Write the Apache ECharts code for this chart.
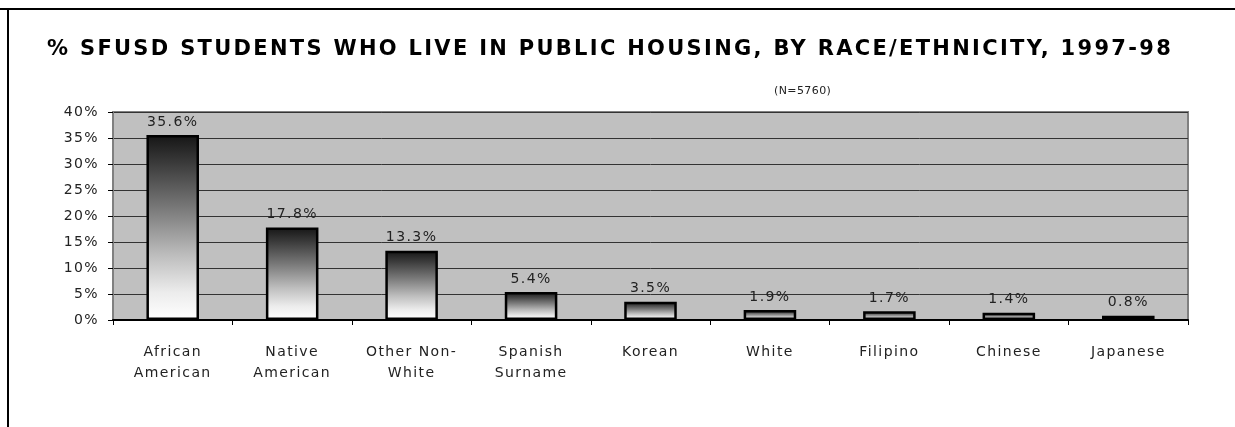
<!DOCTYPE html>
<html>
<head>
<meta charset="utf-8">
<script src="https://cdn.jsdelivr.net/npm/echarts@6/dist/echarts.min.js"></script>
<style>
html,body{margin:0;padding:0;background:#fff;}
#chart{width:1235px;height:427px;}
</style>
</head>
<body>
<div id="chart"></div>
<script>
const titleText = '% SFUSD STUDENTS WHO LIVE IN PUBLIC HOUSING, BY RACE/ETHNICITY, 1997-98';
const subtitleText = '(N=5760)';
const categories = ['African\nAmerican', 'Native\nAmerican', 'Other Non-\nWhite', 'Spanish\nSurname', 'Korean', 'White', 'Filipino', 'Chinese', 'Japanese'];
const values = [35.6, 17.8, 13.3, 5.4, 3.5, 1.9, 1.7, 1.4, 0.8];
const yMin = 0, yMax = 40, yStep = 5;

// The reference typeface is tracked wider than DejaVu Sans: add letter spacing when text is drawn.
(function () {
  const proto = CanvasRenderingContext2D.prototype;
  const origFill = proto.fillText;
  proto.fillText = function (t, x, y, m) {
    if ('letterSpacing' in this) {
      const mm = /(\d+(?:\.\d+)?)px/.exec(this.font || '');
      const size = mm ? parseFloat(mm[1]) : 12;
      this.letterSpacing = size >= 19 ? '2.3px' : size >= 14 ? '1.4px' : '0.4px';
    }
    return m === undefined ? origFill.call(this, t, x, y) : origFill.call(this, t, x, y, m);
  };
})();

const chart = echarts.init(document.getElementById('chart'), null, {renderer: 'canvas'});
const font = 'DejaVu Sans, Verdana, sans-serif';
const barGradient = new echarts.graphic.LinearGradient(0, 0, 0, 1, [
  {offset: 0, color: '#151515'},
  {offset: 0.15, color: '#3a3a3a'},
  {offset: 0.4, color: '#7a7a7a'},
  {offset: 0.65, color: '#bdbdbd'},
  {offset: 0.85, color: '#ececec'},
  {offset: 1, color: '#ffffff'}
]);

chart.setOption({
  animation: false,
  backgroundColor: '#ffffff',
  title: [
    {text: titleText, left: 42, top: 34,
     textStyle: {fontFamily: font, fontWeight: 'bold', fontSize: 21, color: '#000'}},
    {text: subtitleText, left: 769, top: 81,
     textStyle: {fontFamily: font, fontWeight: 'normal', fontSize: 11, color: '#222'}}
  ],
  graphic: [
    {type: 'line', shape: {x1: 0, y1: 9, x2: 1235, y2: 9}, style: {stroke: '#000', lineWidth: 2}},
    {type: 'line', shape: {x1: 8, y1: 9, x2: 8, y2: 427}, style: {stroke: '#000', lineWidth: 2}}
  ],
  grid: {left: 113, right: 47, top: 112, bottom: 107, show: true,
         backgroundColor: '#c0c0c0', borderColor: '#808080', borderWidth: 2},
  xAxis: {
    type: 'category', data: categories,
    axisLine: {lineStyle: {color: '#000', width: 2}},
    axisTick: {show: true, length: 5, lineStyle: {color: '#000'}},
    axisLabel: {fontFamily: font, fontSize: 14, color: '#222', margin: 22, lineHeight: 21, interval: 0}
  },
  yAxis: {
    type: 'value', min: yMin, max: yMax, interval: yStep,
    axisLine: {show: true, lineStyle: {color: '#808080', width: 2}},
    axisTick: {show: true, length: 5, lineStyle: {color: '#000'}},
    splitLine: {lineStyle: {color: '#333', width: 1}},
    axisLabel: {fontFamily: font, fontSize: 14, color: '#222', margin: 14, formatter: '{value}%'}
  },
  series: [{
    type: 'bar', data: values, barWidth: '44%',
    itemStyle: {color: barGradient, borderColor: '#000', borderWidth: 2.5},
    label: {show: true, position: 'top', distance: 6, fontFamily: font, fontSize: 14, color: '#222',
            formatter: p => p.value.toFixed(1) + '%'}
  }]
});
</script>
</body>
</html>
